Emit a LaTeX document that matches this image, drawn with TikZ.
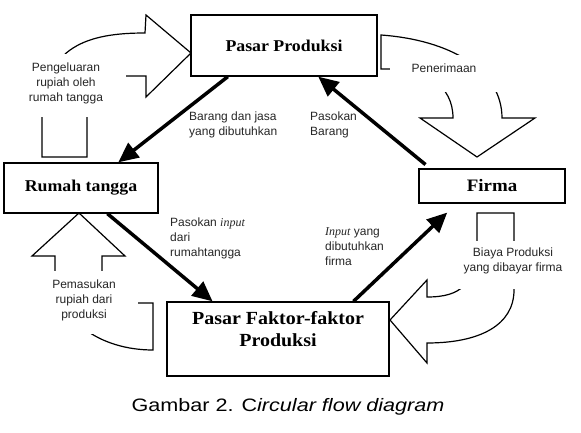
\documentclass[tikz,border=0pt]{standalone}
\usepackage{fontspec}
\setmainfont{Liberation Serif}
\setsansfont{Liberation Sans}
\newfontfamily\titlefont[FakeStretch=1.08]{Liberation Serif}
\newfontfamily\capfont[FakeStretch=1.2]{Liberation Sans}
\usetikzlibrary{arrows.meta,calc}
\begin{document}
\begin{tikzpicture}[x=1pt,y=-1pt,
  box/.style={draw,line width=1.3pt,fill=white,inner sep=0pt},
  flow/.style={line width=3.5pt,-{Triangle[length=20pt,width=18pt]}},
  hollow/.style={draw,line width=1.2pt,fill=white,line join=miter},
  mask/.style={fill=white},
  lbl/.style={font=\sffamily\fontsize{12}{15}\selectfont,text=black!85,inner sep=0pt},
]
\useasboundingbox (0,0) rectangle (581,433);

% hollow curved arrows
\draw[hollow] (42,157) -- (42,118) .. controls (42,45) and (90,33) .. (145,33) -- (146,15) -- (191,53) -- (146,97) -- (146,76) -- (127,76) .. controls (100,76) and (87,95) .. (87,118) -- (87,157) -- cycle;
\draw[hollow] (381,35) -- (381,69) -- (389,69) .. controls (425,69) and (453,85) .. (453,118) -- (420,118) -- (477,157) -- (535,118) -- (502,118) .. controls (502,70) and (450,40) .. (381,35) -- cycle;
\draw[hollow] (153,303) -- (153,350) .. controls (100,350) and (55,320) .. (55,270) -- (55,256) -- (32,256) -- (79,213) -- (125,256) -- (102,256) -- (102,270) .. controls (102,295) and (115,303) .. (139,303) -- cycle;
\draw[hollow] (477,213) -- (514,213) -- (514,290) .. controls (514,325) and (480,343) .. (427,343) -- (427,363) -- (390,320) -- (427,280) -- (427,297) .. controls (460,297) and (477,285) .. (477,240) -- cycle;

% text areas covering the arrow bodies
\fill[mask] (22,54) rectangle (126,117);
\fill[mask] (390,55) rectangle (500,92);
\fill[mask] (45,271) rectangle (138,334);
\fill[mask] (452,241) rectangle (572,289);

% boxes
\node[box,minimum width=186pt,minimum height=61pt,font=\titlefont\bfseries\fontsize{16.5}{20}\selectfont] (pp) at (284,45.5) {Pasar Produksi};
\node[box,minimum width=154pt,minimum height=50pt,font=\titlefont\bfseries\fontsize{16.5}{20}\selectfont] (rt) at (81,188) {Rumah tangga};
\node[box,minimum width=146pt,minimum height=34pt,font=\titlefont\bfseries\fontsize{17.5}{20}\selectfont] (fi) at (492,186) {Firma};
\node[box,minimum width=222pt,minimum height=74pt] (pf) at (278,339) {};
\node[font=\titlefont\bfseries\fontsize{18.5}{22}\selectfont,align=center,inner sep=0pt] (pft) at (278,329) {Pasar Faktor-faktor\\Produksi};

% thick flows
\draw[flow] ($(pp.south west)!0.2!(pp.south east)$) -- ($(rt.north west)!0.74!(rt.north east)$);
\draw[flow] ($(rt.south west)!0.67!(rt.south east)$) -- ($(pf.north west)!0.207!(pf.north east)$);
\draw[flow,shorten >=13pt] ($(pf.north west)!0.838!(pf.north east)$) -- ($(fi.south west)!0.26!(fi.south east)$);
\draw[flow,shorten <=6pt] ($(fi.north west)!0.08!(fi.north east)$) -- ($(pp.south west)!0.683!(pp.south east)$);

% labels
\node[lbl,align=center] (lpeng) at (66,83) {Pengeluaran\\rupiah oleh\\rumah tangga};
\node[lbl,align=center] (lpener) at (444,68) {Penerimaan};
\node[lbl,align=center] (lpem) at (84,300) {Pemasukan\\rupiah dari\\produksi};
\node[lbl,align=center] (lbia) at (513,261) {Biaya Produksi\\yang dibayar firma};
\node[lbl,align=left,anchor=west] (lbj) at (189,125) {Barang dan jasa\\yang dibutuhkan};
\node[lbl,align=left,anchor=west] (lpb) at (310,124.5) {Pasokan\\Barang};
\node[lbl,align=left,anchor=west] (lpi) at (170,238) {Pasokan {\rmfamily\itshape input}\\dari\\rumahtangga};
\node[lbl,align=left,anchor=west] (lin) at (325,247) {{\rmfamily\itshape Input} yang\\dibutuhkan\\firma};

% caption
\node[font=\capfont\fontsize{18}{22}\selectfont,inner sep=0pt] (cap) at (288,407) {Gambar 2. C\textit{ircular flow diagram}};
\end{tikzpicture}
\end{document}
